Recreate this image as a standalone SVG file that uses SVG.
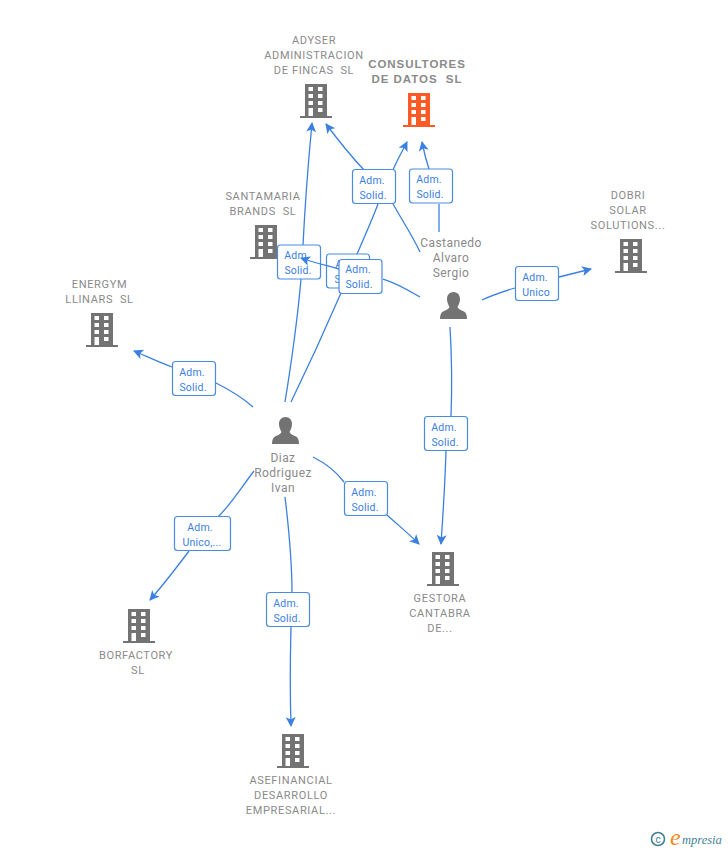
<svg xmlns="http://www.w3.org/2000/svg" width="728" height="850" viewBox="0 0 728 850">
<style>
text{font-family:Roboto,"Liberation Sans",sans-serif;white-space:pre}
.l{font-size:11px;fill:#8a8a8a;text-anchor:middle;letter-spacing:.65px}
.p{font-size:12px;letter-spacing:.45px}
.b{font-size:11.500px;font-weight:bold;font-family:"Liberation Sans",sans-serif;letter-spacing:.95px}
.e{fill:none;stroke:#3b80e0;stroke-width:1.300}
.box{fill:#fff;stroke:#4a8be2;stroke-width:1.200}
.t{font-size:10.500px;fill:#3b80e0;text-anchor:middle;letter-spacing:.2px}
</style>
<defs>
<marker id="a" markerWidth="12" markerHeight="12" refX="9" refY="5" orient="auto" markerUnits="userSpaceOnUse"><path d="M0 0L10 5L0 10L2.500 5Z" fill="#3b80e0"/></marker>
<g id="bld"><path d="M5 0H27V32H32V34H0V32H5Z" fill="currentColor"/><g fill="#fff"><rect x="8.500" y="3" width="4.500" height="4"/><rect x="18" y="3" width="4.500" height="4"/><rect x="8.500" y="10" width="4.500" height="4"/><rect x="18" y="10" width="4.500" height="4"/><rect x="8.500" y="17" width="4.500" height="4"/><rect x="18" y="17" width="4.500" height="4"/><rect x="8.500" y="24" width="4.500" height="8"/><rect x="18" y="24" width="4.500" height="4"/></g></g>
<path id="per" fill="#737373" d="M13.500 0C17.500 0 20 3 20 7C20 10.500 18.500 13 17.500 15C18 17 21 18 24 19.500C26 20.500 27 23 27 27H0C0 23 1 20.500 3 19.500C6 18 9 17 9.500 15C8.500 13 7 10.500 7 7C7 3 9.500 0 13.500 0Z"/>
</defs>
<g id="connectors">
<path class="e" marker-end="url(#a)" d="M303 245C305 205 308 165 312 123"/>
<path class="e" d="M301 279C297 325 291 365 285 402"/>
<path class="e" marker-end="url(#a)" d="M364 170C350 155 338 140 326 124"/>
<path class="e" marker-end="url(#a)" d="M393 170C397 160 402 152 407 142"/>
<path class="e" marker-end="url(#a)" d="M429 169C426 160 424 152 422 142"/>
<path class="e" d="M439 204C439 215 439 223 439 232"/>
<path class="e" d="M393 204C402 220 412 235 420 252"/>
<path class="e" d="M378 204C372 220 364 238 357 254"/>
<path class="e" d="M341 293C325 330 308 367 291 402"/>
<path class="e" d="M420 297C405 288 390 281 383 279"/>
<path class="e" marker-end="url(#a)" d="M482 300C495 294 505 291 515 288M559 277L591 269"/>
<path class="e" marker-end="url(#a)" d="M172 367C158 362 146 356 134 351"/>
<path class="e" d="M216 383C230 390 243 398 253 407"/>
<path class="e" d="M450 327C452 360 452 390 451 417"/>
<path class="e" marker-end="url(#a)" d="M446 451C445 485 443 515 441 544"/>
<path class="e" d="M313 457C325 463 335 470 344 482"/>
<path class="e" marker-end="url(#a)" d="M387 515C398 525 408 533 419 544"/>
<path class="e" d="M254 471C243 485 232 503 218 517"/>
<path class="e" marker-end="url(#a)" d="M189 551C177 567 164 584 150 600"/>
<path class="e" d="M285 497C289 530 292 560 292 593"/>
<path class="e" marker-end="url(#a)" d="M291 627C290 665 290 695 291 726"/>
</g>
<g id="n-adyser" color="#737373"><text class="l"><tspan x="314" y="44">ADYSER</tspan><tspan x="314" y="59">ADMINISTRACION</tspan><tspan x="314" y="74">DE FINCAS  SL</tspan></text><use href="#bld" x="300" y="84"/></g>
<g id="n-consultores" color="#ff5a26"><text class="l b"><tspan x="417" y="68">CONSULTORES</tspan><tspan x="417" y="83">DE DATOS  SL</tspan></text><use href="#bld" x="403" y="93"/></g>
<g id="n-santamaria" color="#737373"><text class="l"><tspan x="263" y="200">SANTAMARIA</tspan><tspan x="263" y="215">BRANDS  SL</tspan></text><use href="#bld" x="250" y="225"/></g>
<g id="n-energym" color="#737373"><text class="l"><tspan x="99.500" y="288">ENERGYM</tspan><tspan x="99.500" y="303">LLINARS  SL</tspan></text><use href="#bld" x="86" y="313"/></g>
<g id="n-dobri" color="#737373"><text class="l"><tspan x="628" y="199">DOBRI</tspan><tspan x="628" y="214">SOLAR</tspan><tspan x="628" y="229">SOLUTIONS...</tspan></text><use href="#bld" x="615" y="239"/></g>
<g id="n-gestora" color="#737373"><use href="#bld" x="427" y="552"/><text class="l"><tspan x="440" y="602">GESTORA</tspan><tspan x="440" y="617">CANTABRA</tspan><tspan x="440" y="632">DE...</tspan></text></g>
<g id="n-borfactory" color="#737373"><use href="#bld" x="123" y="609"/><text class="l"><tspan x="136" y="659">BORFACTORY</tspan><tspan x="138" y="674">SL</tspan></text></g>
<g id="n-asefinancial" color="#737373"><use href="#bld" x="277" y="734"/><text class="l"><tspan x="291" y="784">ASEFINANCIAL</tspan><tspan x="291" y="799">DESARROLLO</tspan><tspan x="291" y="814">EMPRESARIAL...</tspan></text></g>
<g id="n-castanedo"><text class="l p"><tspan x="451" y="247">Castanedo</tspan><tspan x="451" y="262">Alvaro</tspan><tspan x="451" y="277">Sergio</tspan></text><use href="#per" x="440" y="292"/></g>
<g id="n-diaz"><use href="#per" x="272" y="417"/><text class="l p"><tspan x="283" y="462">Diaz</tspan><tspan x="283" y="477">Rodriguez</tspan><tspan x="283" y="492">Ivan</tspan></text></g>
<g id="labels">
<g><rect class="box" x="326.500" y="254" width="43" height="34" rx="3"/><text class="t"><tspan x="348" y="268">Adm.</tspan><tspan x="348" y="283">Solid.</tspan></text></g>
<g><rect class="box" x="277.500" y="245" width="43" height="34" rx="3"/><text class="t"><tspan x="297" y="259">Adm.</tspan><tspan x="298" y="274">Solid.</tspan></text></g>
<path class="e" marker-end="url(#a)" d="M339 269C325 265 312 262 301 258"/>
<g><rect class="box" x="339" y="259.500" width="43" height="34" rx="3"/><text class="t"><tspan x="358" y="273">Adm.</tspan><tspan x="359" y="288">Solid.</tspan></text></g>
<g><rect class="box" x="352.500" y="169.500" width="43" height="34" rx="3"/><text class="t"><tspan x="372" y="184">Adm.</tspan><tspan x="373" y="199">Solid.</tspan></text></g>
<g><rect class="box" x="409.500" y="169" width="43" height="34" rx="3"/><text class="t"><tspan x="429" y="183">Adm.</tspan><tspan x="430" y="198">Solid.</tspan></text></g>
<g><rect class="box" x="515.500" y="266.500" width="43" height="34" rx="3"/><text class="t"><tspan x="535" y="281">Adm.</tspan><tspan x="536" y="296">Unico</tspan></text></g>
<g><rect class="box" x="172.500" y="361.500" width="43" height="34" rx="3"/><text class="t"><tspan x="192" y="376">Adm.</tspan><tspan x="193" y="391">Solid.</tspan></text></g>
<g><rect class="box" x="424.500" y="416.500" width="43" height="34" rx="3"/><text class="t"><tspan x="444" y="431">Adm.</tspan><tspan x="445" y="446">Solid.</tspan></text></g>
<g><rect class="box" x="344.500" y="481.500" width="43" height="34" rx="3"/><text class="t"><tspan x="364" y="496">Adm.</tspan><tspan x="365" y="511">Solid.</tspan></text></g>
<g><rect class="box" x="174.500" y="516.500" width="56" height="34" rx="3"/><text class="t"><tspan x="200" y="531">Adm.</tspan><tspan x="202" y="546">Unico,...</tspan></text></g>
<g><rect class="box" x="266.500" y="592.500" width="43" height="34" rx="3"/><text class="t"><tspan x="286" y="607">Adm.</tspan><tspan x="287" y="622">Solid.</tspan></text></g>
</g>
<g id="logo"><circle cx="658" cy="839" r="6.500" fill="none" stroke="#3f7f96" stroke-width="1.600"/><text x="658" y="842.500" font-size="10" fill="#3f7f96" text-anchor="middle">c</text><text x="670" y="845" font-size="24" fill="#f08a1d" font-style="italic" style="font-family:'Liberation Serif',serif">e</text><text x="682" y="844" font-size="12.500" fill="#3f7f96" font-style="italic" style="font-family:'Liberation Serif',serif">mpresia</text></g>
</svg>
